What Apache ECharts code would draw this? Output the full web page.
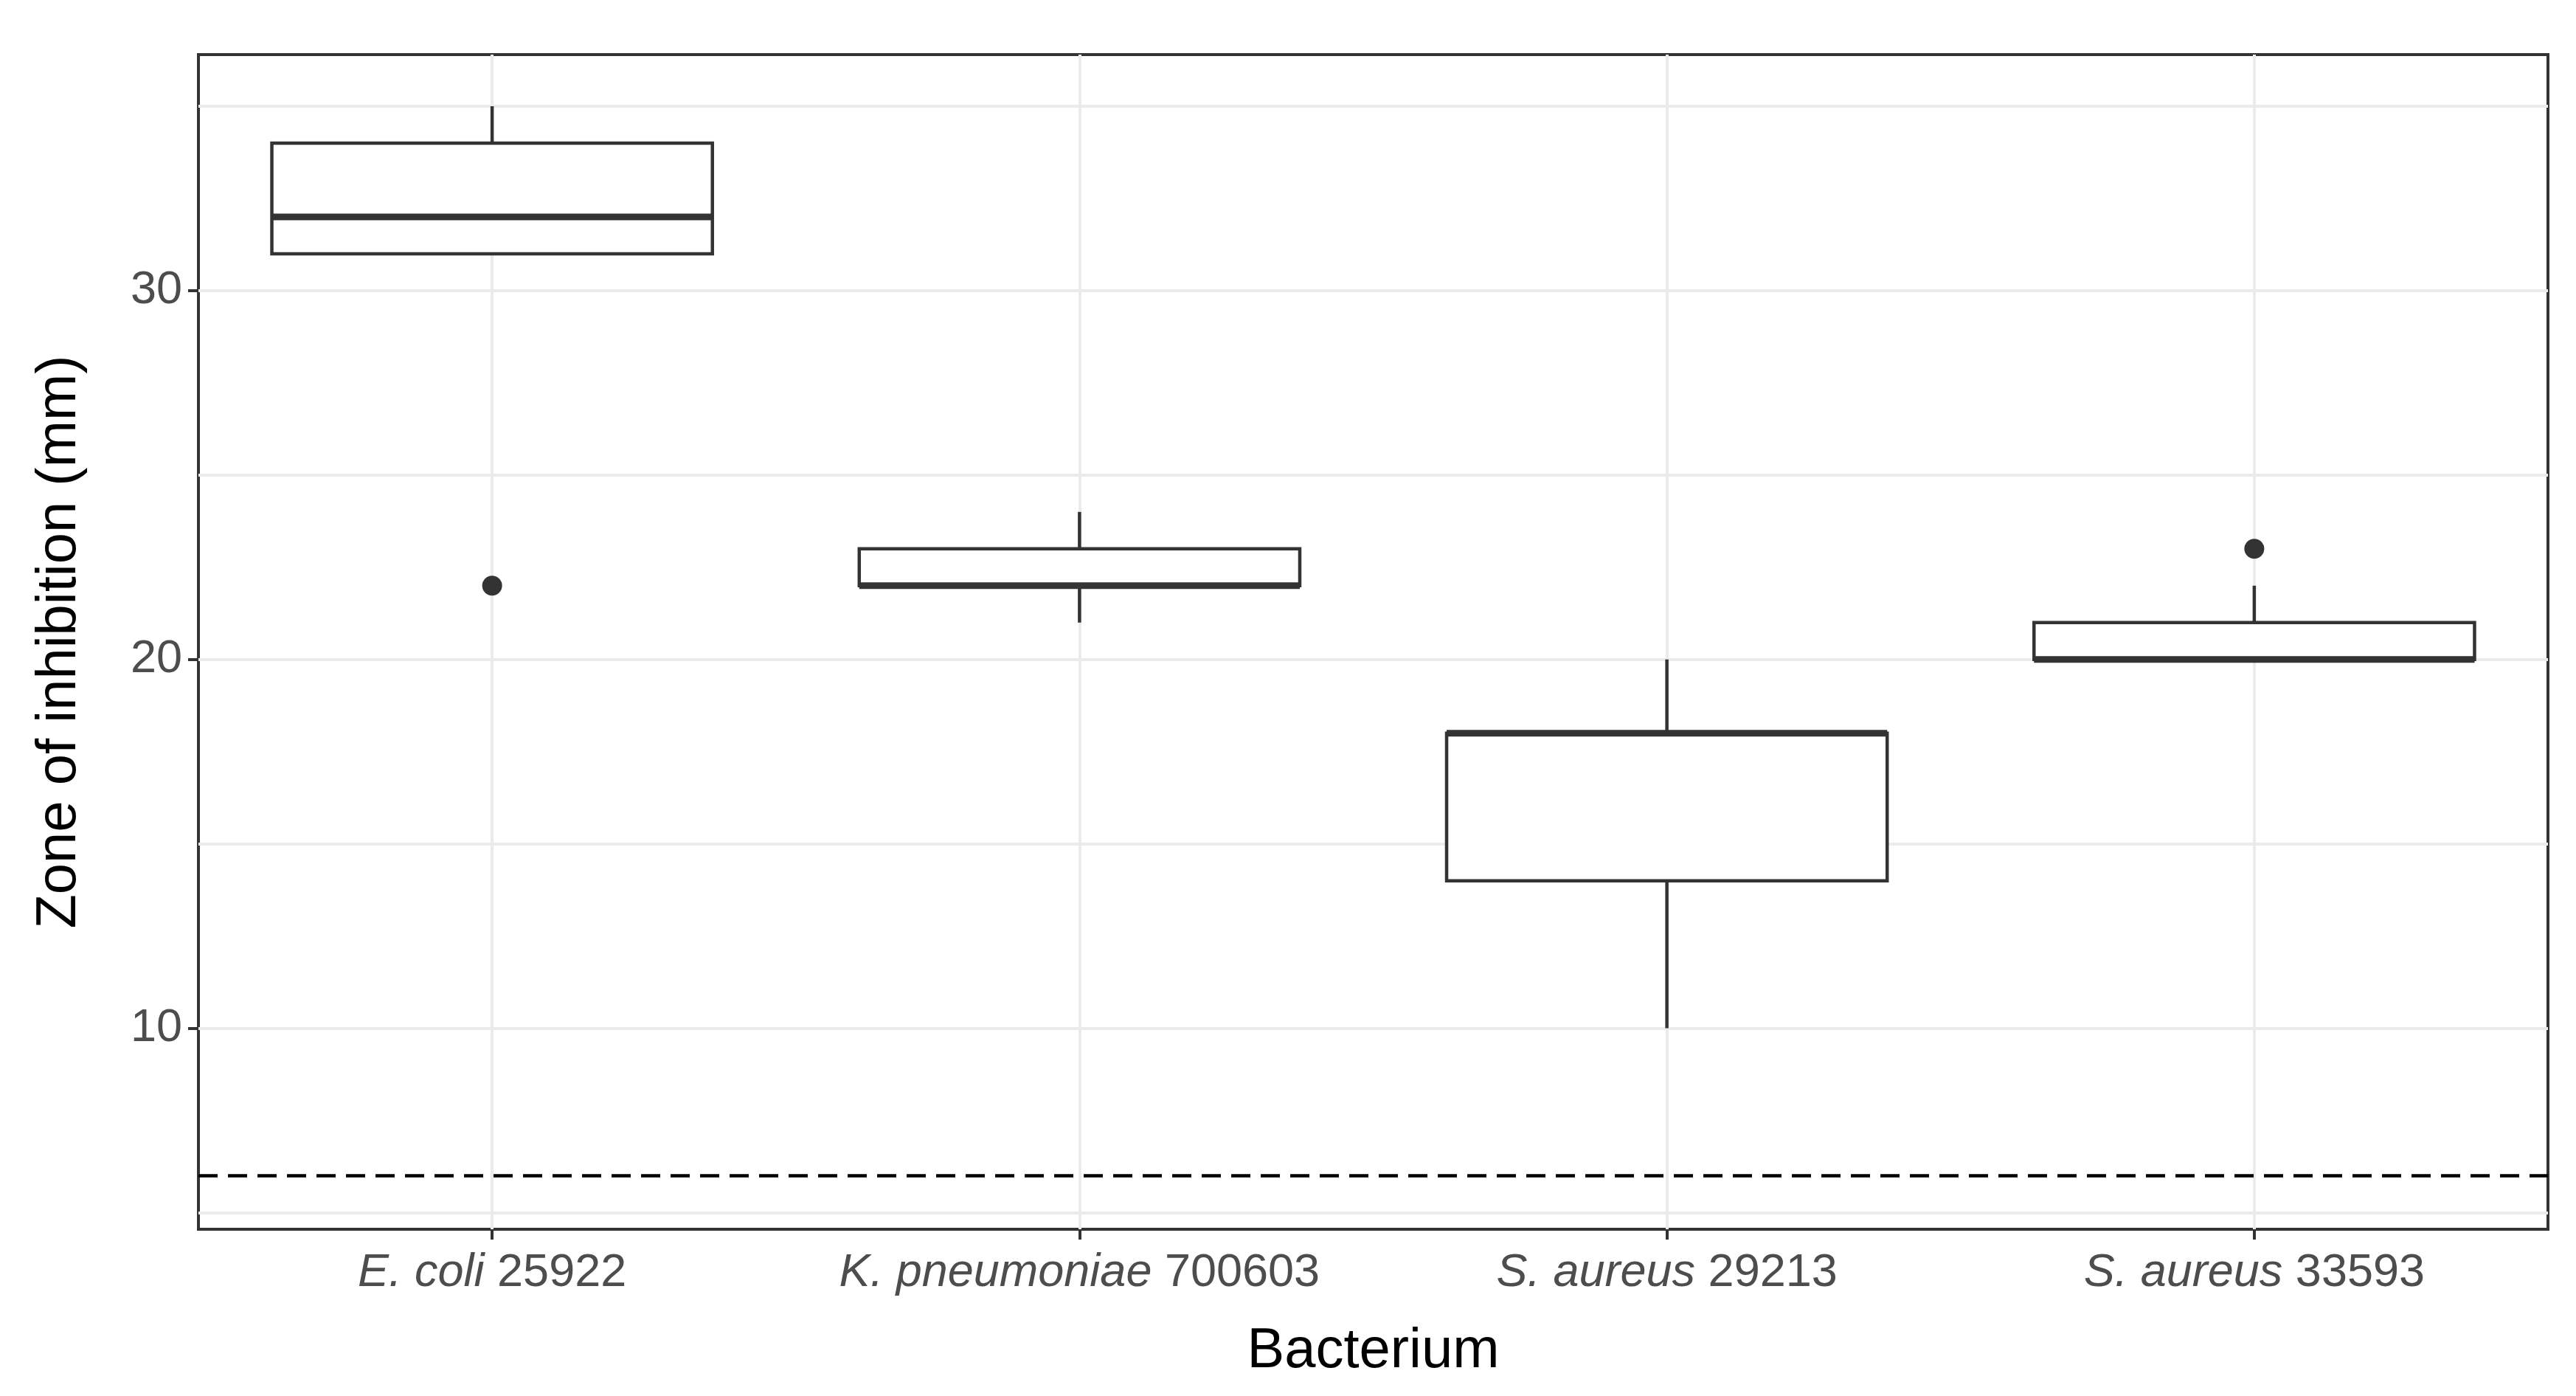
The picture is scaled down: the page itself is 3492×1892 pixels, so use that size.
<!DOCTYPE html>
<html><head><meta charset="utf-8">
<script src="https://cdn.jsdelivr.net/npm/echarts@6/dist/echarts.min.js"></script>
<style>html,body{margin:0;background:#fff}#chart{width:3492px;height:1892px}</style>
</head><body><div id="chart"></div>
<script>
// species (italic) + strain number
var species = ['E. coli', 'K. pneumoniae', 'S. aureus', 'S. aureus'];
var strains = ['25922', '700603', '29213', '33593'];
var categories = ['E. coli 25922', 'K. pneumoniae 700603', 'S. aureus 29213', 'S. aureus 33593'];
// [min, Q1, median, Q3, max]
var boxValues = [
  [31, 31, 32, 34, 35],
  [21, 22, 22, 23, 24],
  [10, 14, 18, 18, 20],
  [20, 20, 20, 21, 22]
];
var outliers = [[0, 22], [3, 23]];
var yTicks = [10, 20, 30];
var gridValues = [5, 10, 15, 20, 25, 30, 35];
var cutoff = 6;

var myChart = echarts.init(document.getElementById('chart'));
var gridLines = [];
for (var i = 0; i < gridValues.length; i++) gridLines.push({yAxis: gridValues[i]});
for (var j = 0; j < categories.length; j++) gridLines.push({xAxis: categories[j]});

var boxData = [];
for (var k = 0; k < boxValues.length; k++) boxData.push([k].concat(boxValues[k]));

function renderBox(params, api) {
  var x = api.value(0);
  var pMin = api.coord([x, api.value(1)]);
  var pQ1 = api.coord([x, api.value(2)]);
  var pMed = api.coord([x, api.value(3)]);
  var pQ3 = api.coord([x, api.value(4)]);
  var pMax = api.coord([x, api.value(5)]);
  var half = api.size([1, 0])[0] * 0.375;
  var cx = pMed[0];
  var st = {stroke: '#333', lineWidth: 4.5, fill: null};
  return {
    type: 'group',
    children: [
      {type: 'line', shape: {x1: cx, y1: pMax[1], x2: cx, y2: pQ3[1]}, style: st},
      {type: 'line', shape: {x1: cx, y1: pQ1[1], x2: cx, y2: pMin[1]}, style: st},
      {type: 'rect', shape: {x: cx - half, y: pQ3[1], width: half * 2, height: pQ1[1] - pQ3[1]},
        style: {stroke: '#333', lineWidth: 4.5, fill: '#fff'}},
      {type: 'line', shape: {x1: cx - half, y1: pMed[1], x2: cx + half, y2: pMed[1]},
        style: {stroke: '#333', lineWidth: 9}}
    ]
  };
}

var option = {
  backgroundColor: '#fff',
  animation: false,
  grid: {left: 269, right: 38, top: 74, bottom: 226, show: true, borderColor: '#333', borderWidth: 4, backgroundColor: '#fff'},
  xAxis: {
    type: 'category', data: categories,
    name: 'Bacterium', nameLocation: 'middle', nameGap: 128,
    nameTextStyle: {fontSize: 76, color: '#000', fontFamily: 'Liberation Sans'},
    axisLine: {show: false},
    axisTick: {show: true, alignWithLabel: true, length: 14, lineStyle: {color: '#333', width: 4}},
    axisLabel: {
      margin: 28,
      formatter: function (v, idx) { return '{i|' + species[idx] + '}{n|\u00a0' + strains[idx] + '}'; },
      rich: {
        i: {fontStyle: 'italic', fontSize: 63, color: '#4d4d4d', fontFamily: 'Liberation Sans'},
        n: {fontSize: 63, color: '#4d4d4d', fontFamily: 'Liberation Sans'}
      }
    },
    splitLine: {show: false}
  },
  yAxis: {
    type: 'value', min: 4.55, max: 36.4,
    name: 'Zone of inhibition (mm)', nameLocation: 'middle', nameGap: 150,
    nameTextStyle: {fontSize: 76, color: '#000', fontFamily: 'Liberation Sans'},
    axisLine: {show: false},
    axisTick: {show: true, length: 14, customValues: yTicks, lineStyle: {color: '#333', width: 4}},
    axisLabel: {customValues: yTicks, fontSize: 63, color: '#4d4d4d', margin: 22, fontFamily: 'Liberation Sans'},
    splitLine: {show: false}
  },
  series: [
    {
      type: 'line', data: [], silent: true,
      markLine: {
        silent: true, symbol: 'none', label: {show: false},
        lineStyle: {color: '#ebebeb', width: 4, type: 'solid'},
        data: gridLines, z: 1
      }
    },
    {
      type: 'custom', data: boxData, renderItem: renderBox, z: 3,
      encode: {x: 0, y: [1, 2, 3, 4, 5]}
    },
    {
      type: 'scatter', data: outliers, symbolSize: 27, z: 4,
      itemStyle: {color: '#333', opacity: 1}
    },
    {
      type: 'line', data: [], silent: true,
      markLine: {
        silent: true, symbol: 'none', label: {show: false},
        lineStyle: {color: '#000', width: 4.5, type: [26, 14]},
        data: [{yAxis: cutoff}]
      }
    }
  ]
};
myChart.setOption(option, true);
</script></body></html>
